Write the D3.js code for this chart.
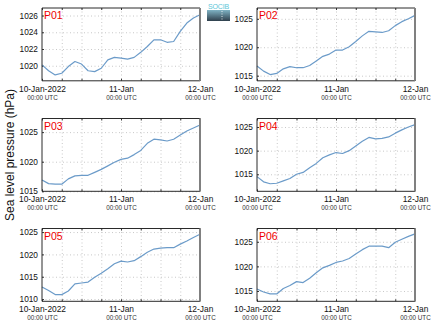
<!DOCTYPE html>
<html>
<head>
<meta charset="utf-8">
<script src="https://cdn.jsdelivr.net/npm/d3@7"></script>
<style>
  html, body { margin: 0; padding: 0; background: #fff; }
  svg { display: block; font-family: "Liberation Sans", Arial, sans-serif; }
</style>
</head>
<body>
<svg id="chart" width="435" height="327"></svg>
<script>
// ---- data ----
const hours = [0,2,4,6,8,10,12,14,16,18,20,22,24,26,28,30,32,34,36,38,40,42,44,46,48];
const stations = ["P01","P02","P03","P04","P05","P06"];
const p01 = [1020.1,1019.4,1018.9,1019.1,1019.9,1020.5,1020.2,1019.4,1019.3,1019.7,1020.7,1021.0,1020.9,1020.8,1021.0,1021.6,1022.3,1023.1,1023.1,1022.8,1022.9,1024.1,1025.1,1025.7,1026.1];
const p02 = [1016.7,1015.8,1015.2,1015.4,1016.2,1016.6,1016.4,1016.4,1016.8,1017.6,1018.4,1018.8,1019.5,1019.5,1020.1,1021.0,1022.0,1022.8,1022.7,1022.6,1022.9,1023.8,1024.5,1025.0,1025.6];
const p03 = [1016.9,1016.3,1016.2,1016.2,1017.1,1017.6,1017.7,1017.7,1018.2,1018.7,1019.3,1019.9,1020.4,1020.6,1021.2,1021.9,1023.1,1023.8,1023.7,1023.5,1023.8,1024.5,1025.2,1025.7,1026.2];
const p04 = [1014.5,1013.4,1013.0,1013.1,1013.6,1014.1,1015.0,1015.4,1016.4,1017.3,1018.5,1019.1,1019.6,1019.4,1020.0,1021.0,1022.0,1022.8,1022.5,1022.6,1022.9,1023.7,1024.4,1025.0,1025.5];
const p05 = [1012.7,1011.9,1011.0,1011.0,1011.8,1013.4,1013.6,1013.8,1014.9,1015.8,1016.8,1017.9,1018.5,1018.3,1018.6,1019.5,1020.5,1021.2,1021.4,1021.5,1021.5,1022.3,1023.0,1023.8,1024.5];
const p06 = [1015.4,1014.8,1014.4,1014.4,1015.5,1016.1,1016.9,1016.7,1017.6,1018.7,1019.7,1020.2,1020.8,1021.1,1021.6,1022.5,1023.4,1024.1,1024.1,1024.1,1023.8,1024.9,1025.5,1026.1,1026.6];
const seriesValues = [p01, p02, p03, p04, p05, p06];
const yDomains = [[1018.2,1026.9],[1014.1,1026.9],[1015.0,1027.3],[1011.4,1026.8],[1009.5,1025.8],[1012.9,1027.7]];
const yTickValues = [[1020,1022,1024,1026],[1015,1020,1025],[1015,1020,1025],[1015,1020,1025],[1010,1015,1020,1025],[1015,1020,1025]];
const xTickLabels = ["10-Jan-2022","11-Jan","12-Jan"];
const xTickSub = "00:00 UTC";
const yLabel = "Sea level pressure (hPa)";

// ---- layout ----
const svg = d3.select("#chart");
const t0 = Date.UTC(2022,0,10);
const toDate = h => new Date(t0 + h*3600e3);
const colX = [42, 257];
const rowY = [8, 118.5, 228.5];
const pw = 158, ph = 72.8;

seriesValues.forEach((vals, i) => {
  const left = colX[i % 2], top = rowY[Math.floor(i / 2)];
  const g = svg.append("g").attr("transform", `translate(${left},${top})`);
  const x = d3.scaleUtc().domain([toDate(0), toDate(48)]).range([0, pw]);
  const y = d3.scaleLinear().domain(yDomains[i]).range([ph, 0]);

  const gridTimes = d3.range(6, 48, 6).map(toDate);
  // vertical grid
  g.append("g").call(d3.axisBottom(x).tickValues(gridTimes).tickSize(ph).tickFormat(""))
    .call(a => a.select(".domain").remove())
    .selectAll("line").attr("stroke", "#c8c8c8").attr("stroke-dasharray", "1,2.5");
  // horizontal grid
  g.append("g").call(d3.axisLeft(y).tickValues(yTickValues[i]).tickSize(-pw).tickFormat(""))
    .call(a => a.select(".domain").remove())
    .selectAll("line").attr("stroke", "#c8c8c8").attr("stroke-dasharray", "1,2.5");

  // inward small ticks
  const allTimes = d3.range(0, 49, 6).map(toDate);
  g.append("g").call(d3.axisTop(x).tickValues(allTimes).tickSize(-2).tickFormat(""))
    .call(a => a.select(".domain").remove())
    .selectAll("line").attr("stroke", "#333");
  g.append("g").attr("transform", `translate(0,${ph})`)
    .call(d3.axisBottom(x).tickValues(allTimes).tickSize(-2).tickFormat(""))
    .call(a => a.select(".domain").remove())
    .selectAll("line").attr("stroke", "#333");

  // y axis labels
  const ya = g.append("g").call(d3.axisLeft(y).tickValues(yTickValues[i]).tickSize(-2).tickPadding(4).tickFormat(d3.format("d")));
  ya.select(".domain").remove();
  ya.selectAll("line").attr("stroke", "#333");
  ya.selectAll("text").attr("font-size", "8.3px").attr("fill", "#111")
    .attr("font-family", "'Liberation Sans', Arial, sans-serif");

  // x axis labels
  const labelTimes = [0, 24, 48].map(toDate);
  const xa = g.append("g").attr("transform", `translate(0,${ph})`)
    .call(d3.axisBottom(x).tickValues(labelTimes).tickSize(0).tickPadding(5)
      .tickFormat((d, k) => xTickLabels[k]));
  xa.select(".domain").remove();
  xa.selectAll("text").attr("font-size", "8.4px").attr("fill", "#111")
    .attr("font-family", "'Liberation Sans', Arial, sans-serif")
    .each(function() {
      d3.select(this).append("tspan").attr("x", 0).attr("dy", "1.25em")
        .attr("font-size", "6.3px").attr("fill", "#333").text(xTickSub);
    });

  // line
  const line = d3.line().x((d, k) => x(toDate(hours[k]))).y(d => y(d));
  g.append("path").datum(vals).attr("d", line)
    .attr("fill", "none").attr("stroke", "#6b9bc9").attr("stroke-width", 1.2)
    .attr("stroke-linejoin", "round");

  // frame
  g.append("path").attr("d", `M${pw},0 H0 V${ph} H${pw}`)
    .attr("fill", "none").attr("stroke", "#2a2a2a").attr("stroke-width", 1);
  g.append("line").attr("x1", pw).attr("x2", pw).attr("y1", 0).attr("y2", ph)
    .attr("stroke", "#808080").attr("stroke-width", 2);

  // station label
  g.append("text").attr("x", 2).attr("y", 11).attr("font-size", "10.5px")
    .attr("fill", "#ee0000").text(stations[i]);
});

// y label
svg.append("text").attr("transform", "translate(14,155) rotate(-90)")
  .attr("text-anchor", "middle").attr("font-size", "12px").attr("fill", "#111")
  .text(yLabel);

// logo
const defs = svg.append("defs");
const grad = defs.append("linearGradient").attr("id", "lg").attr("x1", 0).attr("x2", 0).attr("y1", 0).attr("y2", 1);
grad.append("stop").attr("offset", "0%").attr("stop-color", "#7fb3c4");
grad.append("stop").attr("offset", "100%").attr("stop-color", "#2f3f4c");
svg.append("text").attr("x", 218.5).attr("y", 8.5).attr("text-anchor", "middle")
  .attr("font-size", "7px").attr("fill", "#5cc6d8").attr("letter-spacing", "-0.2").text("SOCIB");
svg.append("rect").attr("x", 207).attr("y", 10).attr("width", 23).attr("height", 11).attr("fill", "url(#lg)");
svg.append("line").attr("x1", 222).attr("x2", 222).attr("y1", 11).attr("y2", 20)
  .attr("stroke", "#fff").attr("stroke-width", 0.8).attr("stroke-dasharray", "1,1.5");
</script>
</body>
</html>
